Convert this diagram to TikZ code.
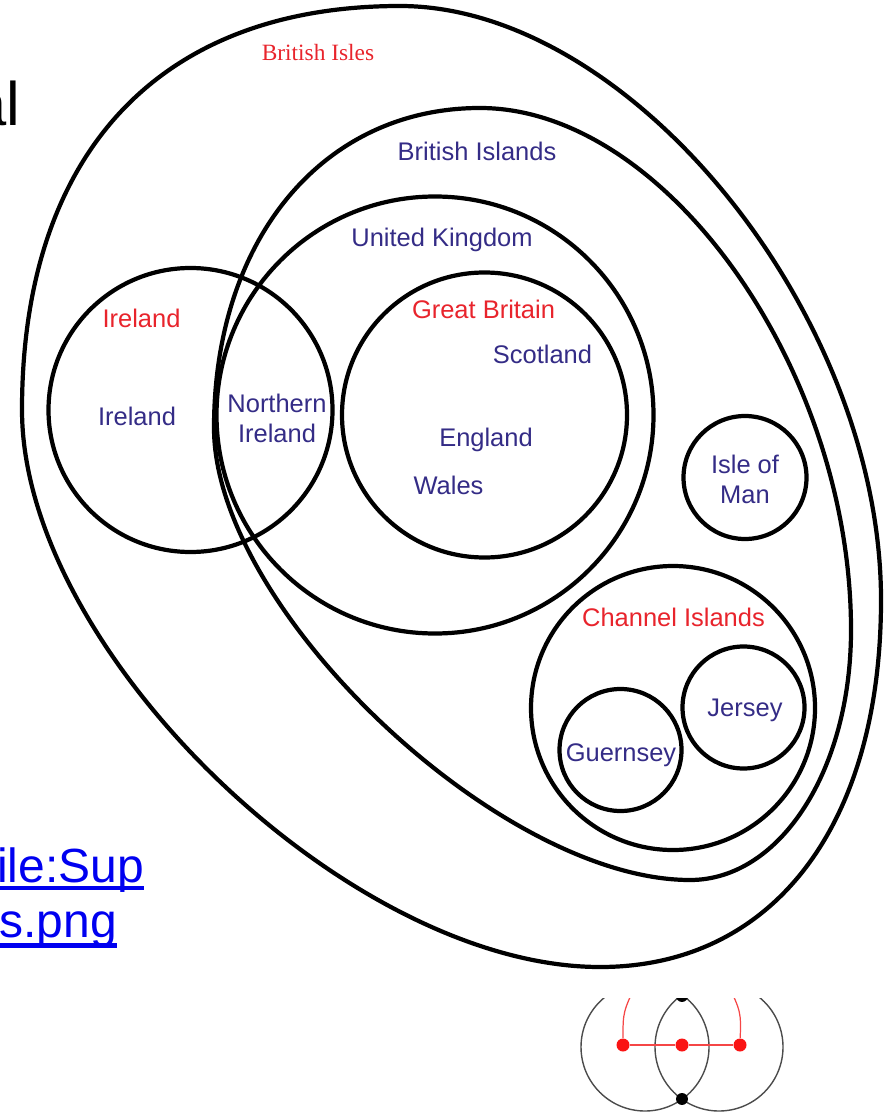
\documentclass[tikz,border=0pt]{standalone}
\usepackage{fontspec}
\setmainfont{Liberation Sans}
\newfontfamily\timesfont{Liberation Serif}
\definecolor{labelred}{RGB}{232,36,44}
\definecolor{labelblue}{RGB}{52,44,134}
\definecolor{linkblue}{RGB}{0,0,240}
\definecolor{dotred}{RGB}{250,20,20}
\definecolor{thinred}{RGB}{245,70,70}

\begin{document}
\begin{tikzpicture}[x=0.02cm, y=0.02cm,
    ring/.style={black, line width=2.4pt},
    redtext/.style={text=labelred, font=\fontsize{14.5}{17}\selectfont, anchor=base},
    bluetext/.style={text=labelblue, font=\fontsize{14.5}{17}\selectfont, anchor=base},
    twoline/.style={text=labelblue, font=\fontsize{14.5}{17}\selectfont, align=center},
    linktext/.style={text=linkblue, font=\fontsize{27.3}{32}\selectfont, anchor=base west},
    linkbar/.style={linkblue, line width=2.4pt},
    thinring/.style={black!70, line width=0.8pt},
    reddot/.style={circle, fill=dotred, minimum size=7.4pt},
    blackdot/.style={circle, fill=black, minimum size=6.8pt},
    redline/.style={thinred, line width=0.7pt}]
    \tikzstyle{every node}+=[inner sep=0pt]
    \useasboundingbox (0,0) rectangle (885,-1114);
    \clip (0,0) rectangle (885,-1114);
    % slide text behind the picture
    \draw (-28,-126) node [anchor=base west, font=\fontsize{35}{40}\selectfont] (slideword) {al};
    \draw (-3,-882) node [linktext] (fileone) {ile:Sup};
    \draw (-1,-937) node [linktext] (filetwo) {s.png};
    \draw [linkbar] ([yshift=-3.2pt]fileone.base west) -- ([yshift=-3.2pt]fileone.base east);
    \draw [linkbar] ([yshift=-4.8pt]filetwo.base west) -- ([yshift=-4.8pt]filetwo.base east);
    % British Isles
    \draw [ring] (400,-6) .. controls (630.9,-6) and (881,-314.9) .. (881,-600)
      .. controls (881,-825.7) and (772.8,-967) .. (600,-967)
      .. controls (349.7,-967) and (22,-651.2) .. (22,-410)
      .. controls (22,-153.1) and (159.6,-6) .. (400,-6) -- cycle;
    \draw (318,-61) node [redtext, font=\timesfont\fontsize{13.3}{16}\selectfont] (isles) {British Isles};
    % British Islands
    \draw [ring] (480,-108) .. controls (665.5,-108) and (851,-369) .. (851,-630)
      .. controls (851,-770) and (780.2,-880) .. (690,-880)
      .. controls (499.6,-880) and (214,-608.8) .. (214,-428)
      .. controls (214,-239.2) and (323.1,-108) .. (480,-108) -- cycle;
    \draw (477,-161) node [bluetext] (islands) {British Islands};
    % United Kingdom
    \draw [ring] (435,-415) circle (218.5);
    \draw (442,-247) node [bluetext] (uk) {United Kingdom};
    % Ireland
    \draw [ring] (190.5,-410) circle (142);
    \draw (141.5,-328) node [redtext] (irelandset) {Ireland};
    \draw (137,-425) node [bluetext] (ireland) {Ireland};
    \draw (277,-418) node [twoline] (nireland) {Northern\\Ireland};
    % Great Britain
    \draw [ring] (484.5,-415) circle (142.5);
    \draw (483.5,-318) node [redtext] (gb) {Great Britain};
    \draw (542.5,-363) node [bluetext] (scotland) {Scotland};
    \draw (486,-446) node [bluetext] (england) {England};
    \draw (448.5,-494) node [bluetext] (wales) {Wales};
    % Isle of Man
    \draw [ring] (745,-477.5) circle (61.5);
    \draw (745,-479) node [twoline] (man) {Isle of\\Man};
    % Channel Islands
    \draw [ring] (673,-708) circle (142);
    \draw (673.5,-626) node [redtext] (channel) {Channel Islands};
    \draw [ring] (743.5,-707.5) circle (61);
    \draw (745,-716) node [bluetext] (jersey) {Jersey};
    \draw [ring] (620.5,-750) circle (61);
    \draw (621,-761) node [bluetext] (guernsey) {Guernsey};
    % small figure, cut off at the top
    \begin{scope}
      \clip (560,-998) rectangle (800,-1114);
      \draw [thinring] (645,-1047) circle (64);
      \draw [thinring] (719,-1047) circle (64);
      \node [blackdot] (topdot) at (682,-996) {};
      \node [blackdot] (bottomdot) at (682,-1099) {};
      \coordinate (leftend) at (637,-982);
      \coordinate (rightend) at (727,-982);
      \node [reddot] (leftdot) at (623,-1045) {};
      \node [reddot] (middot) at (682,-1045) {};
      \node [reddot] (rightdot) at (740,-1045) {};
      \draw [redline] (leftdot) -- (middot) -- (rightdot);
      \draw [redline] (leftdot) .. controls (623,-1012) .. (leftend);
      \draw [redline] (rightdot) .. controls (741,-1012) .. (rightend);
    \end{scope}
\end{tikzpicture}
\end{document}
